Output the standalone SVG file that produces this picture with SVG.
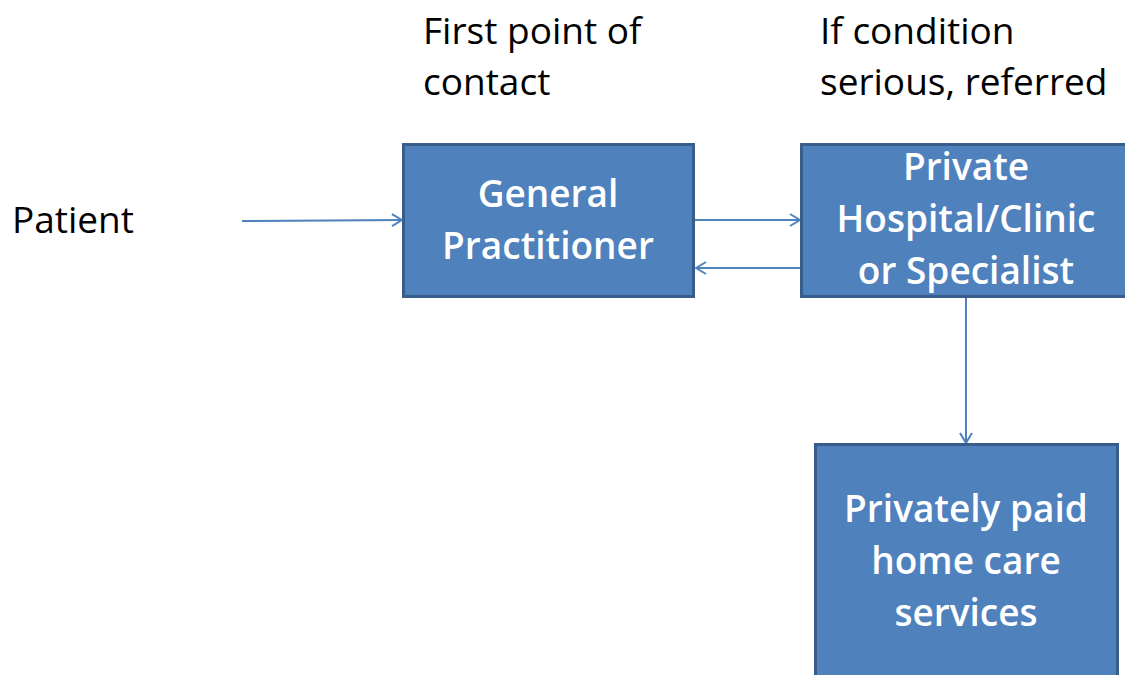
<svg xmlns="http://www.w3.org/2000/svg" width="1125" height="675" viewBox="0 0 1125 675">
  <style>
    .box { fill: #4F81BD; stroke: #385D8A; stroke-width: 3; }
    .label { font-family: "Open Sans", "Liberation Sans", sans-serif; font-size: 37px; fill: #000000; }
    .inbox { font-family: "Open Sans", "Liberation Sans", sans-serif; font-size: 37px; font-weight: 600; fill: #FFFFFF; text-anchor: middle; }
    .link { stroke: #4F81BD; stroke-width: 2; fill: none; marker-end: url(#open); }
  </style>
  <defs>
    <marker id="open" markerWidth="12" markerHeight="14" refX="11" refY="7" orient="auto" markerUnits="userSpaceOnUse">
      <path d="M1,1 L11,7 L1,13" fill="none" stroke="#4F81BD" stroke-width="2"/>
    </marker>
  </defs>
  <rect width="1125" height="675" fill="#FFFFFF"/>

  <!-- free-standing captions -->
  <g id="patient">
    <text class="label" x="12" y="233">Patient</text>
  </g>
  <g id="first-contact">
    <text class="label" x="423" y="44">First point of</text>
    <text class="label" x="423" y="95">contact</text>
  </g>
  <g id="referral-note">
    <text class="label" x="820" y="44">If condition</text>
    <text class="label" x="820" y="95">serious, referred</text>
  </g>

  <!-- connectors -->
  <g id="connectors">
    <line class="link" x1="242" y1="221" x2="402" y2="220"/>
    <line class="link" x1="695" y1="220" x2="800" y2="220"/>
    <line class="link" x1="801" y1="268" x2="696" y2="268"/>
    <line class="link" x1="966" y1="298" x2="966" y2="443"/>
  </g>

  <!-- nodes -->
  <g id="general-practitioner">
    <rect class="box" x="403.5" y="144.5" width="290" height="152"/>
    <text class="inbox" x="548" y="207">General</text>
    <text class="inbox" x="548" y="259">Practitioner</text>
  </g>
  <g id="private-hospital">
    <rect class="box" x="801.5" y="144.5" width="330" height="152"/>
    <text class="inbox" x="966" y="180">Private</text>
    <text class="inbox" x="966" y="232">Hospital/Clinic</text>
    <text class="inbox" x="966" y="284">or Specialist</text>
  </g>
  <g id="home-care">
    <rect class="box" x="815.5" y="444.5" width="302" height="240"/>
    <text class="inbox" x="966" y="522">Privately paid</text>
    <text class="inbox" x="966" y="574">home care</text>
    <text class="inbox" x="966" y="626">services</text>
  </g>
</svg>
